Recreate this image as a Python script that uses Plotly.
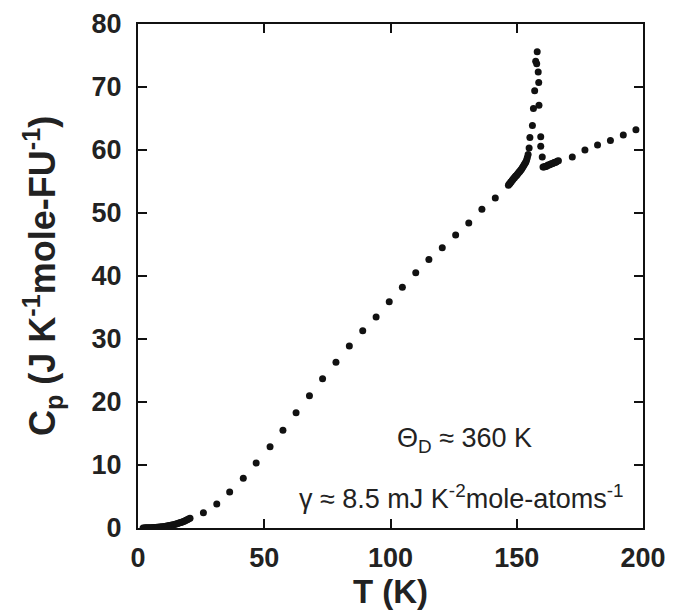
import plotly.graph_objects as go

# ---- data ----
T_low = [2.0, 2.5, 3.0, 3.5, 4.0, 4.5, 5.0, 5.5, 6.0, 6.5, 7.0, 7.5, 8.0, 8.5, 9.0,
         9.5, 10.0, 10.5, 11.0, 11.5, 12.0, 12.5, 13.0, 13.5, 14.0, 14.5, 15.0, 15.5,
         16.0, 16.5, 17.0, 17.5, 18.0, 18.5, 19.0, 19.5, 20.0, 20.6]
Cp_low = [0.01, 0.01, 0.02, 0.02, 0.03, 0.03, 0.04, 0.05, 0.06, 0.07, 0.09, 0.10, 0.12,
          0.14, 0.16, 0.18, 0.21, 0.24, 0.27, 0.30, 0.34, 0.38, 0.42, 0.47, 0.51, 0.57,
          0.62, 0.69, 0.75, 0.82, 0.89, 0.97, 1.05, 1.13, 1.22, 1.32, 1.42, 1.54]

T_mid = [25.9, 31.2, 36.3, 41.7, 46.8, 52.3, 57.4, 62.6, 67.9, 73.1, 78.4, 83.7, 89.0,
         94.3, 99.5, 104.7, 110.0, 115.2, 120.5, 125.8, 131.0, 136.2, 141.5]
Cp_mid = [2.44, 3.8, 5.7, 7.9, 10.3, 12.9, 15.5, 18.3, 21.0, 23.7, 26.3, 28.9, 31.3,
          33.5, 35.9, 38.2, 40.5, 42.6, 44.5, 46.5, 48.4, 50.6, 52.4]

T_pre = [146.7, 147.0, 147.3, 147.6, 147.9, 148.2, 148.5, 148.8, 149.1, 149.4, 149.7,
         150.0, 150.3, 150.6, 150.9, 151.2, 151.5, 151.8, 152.1, 152.4, 152.7, 153.0,
         153.3, 153.6, 153.9, 154.2, 154.5]
Cp_pre = [54.4, 54.6, 54.7, 54.9, 55.0, 55.2, 55.3, 55.5, 55.6, 55.8, 55.9, 56.0, 56.2,
          56.3, 56.5, 56.6, 56.8, 56.9, 57.1, 57.3, 57.5, 57.7, 57.9, 58.1, 58.4, 58.8,
          59.3]

T_peak = [154.9, 155.2, 156.2, 156.6, 157.1, 157.5, 157.9, 158.1, 158.5, 158.7, 158.8,
          159.5, 159.5, 160.1]
Cp_peak = [60.3, 62.0, 63.9, 66.6, 69.4, 74.1, 73.7, 75.6, 72.4, 70.7, 67.1, 62.1, 60.6,
           58.9]

T_post = [160.4, 160.8, 161.2, 161.6, 162.0, 162.4, 162.8, 163.2, 163.6, 164.0, 164.4,
          164.8, 165.2, 165.6, 166.0, 166.5]
Cp_post = [57.3, 57.3, 57.4, 57.4, 57.5, 57.6, 57.6, 57.7, 57.8, 57.8, 57.9, 58.0, 58.0,
           58.1, 58.2, 58.3]

T_high = [172.0, 177.0, 182.0, 187.1, 192.2, 197.2]
Cp_high = [58.9, 60.0, 60.8, 61.5, 62.4, 63.2]

x_ticks = [0, 50, 100, 150, 200]
y_ticks = [0, 10, 20, 30, 40, 50, 60, 70, 80]

fig = go.Figure()
for tx, cy in [(T_low, Cp_low), (T_mid, Cp_mid), (T_pre, Cp_pre),
               (T_peak, Cp_peak), (T_post, Cp_post), (T_high, Cp_high)]:
    fig.add_trace(go.Scatter(x=tx, y=cy, mode="markers",
                             marker=dict(size=7, color="#111111"),
                             showlegend=False, hoverinfo="x+y"))

axis_common = dict(showline=True, linecolor="#111111", linewidth=2, mirror="ticks",
                   ticks="inside", ticklen=9, tickwidth=2, tickcolor="#111111",
                   showgrid=False, zeroline=False, automargin=False,
                   tickfont=dict(family="Liberation Sans", size=27, color="#222222",
                                 weight="bold"))

# the page body adds an 8 px offset, so margins are shifted to compensate
fig.update_layout(
    width=681, height=610,
    margin=dict(l=130, r=46, t=16, b=90),
    plot_bgcolor="white", paper_bgcolor="white",
    xaxis=dict(range=[0, 200], tickvals=x_ticks, ticklabelstandoff=5,
               title=dict(text="T (K)", standoff=0,
                          font=dict(family="Liberation Sans", size=33, color="#222222",
                                    weight="bold")),
               **axis_common),
    yaxis=dict(range=[0, 80], tickvals=y_ticks, ticklabelstandoff=9, **axis_common),
)

# y-axis title placed as rotated text left of the tick labels
fig.add_annotation(x=-0.19, y=0.5, xref="paper", yref="paper",
                   xanchor="center", yanchor="middle", textangle=-90,
                   text="C<sub>p</sub> (J K<sup>-1</sup>mole-FU<sup>-1</sup>)",
                   showarrow=False,
                   font=dict(family="Liberation Sans", size=36, color="#222222",
                             weight="bold"))

fig.add_annotation(x=101.8, y=13.9, xref="x", yref="y", xanchor="left", yanchor="middle",
                   text="Θ<sub>D</sub> ≈ 360 K", showarrow=False,
                   font=dict(family="Liberation Sans", size=27, color="#222222"))
fig.add_annotation(x=63.0, y=4.9, xref="x", yref="y", xanchor="left", yanchor="middle",
                   text="γ ≈ 8.5 mJ K<sup>-2</sup>mole-atoms<sup>-1</sup>", showarrow=False,
                   font=dict(family="Liberation Sans", size=27, color="#222222"))

fig.write_html("out.html")
